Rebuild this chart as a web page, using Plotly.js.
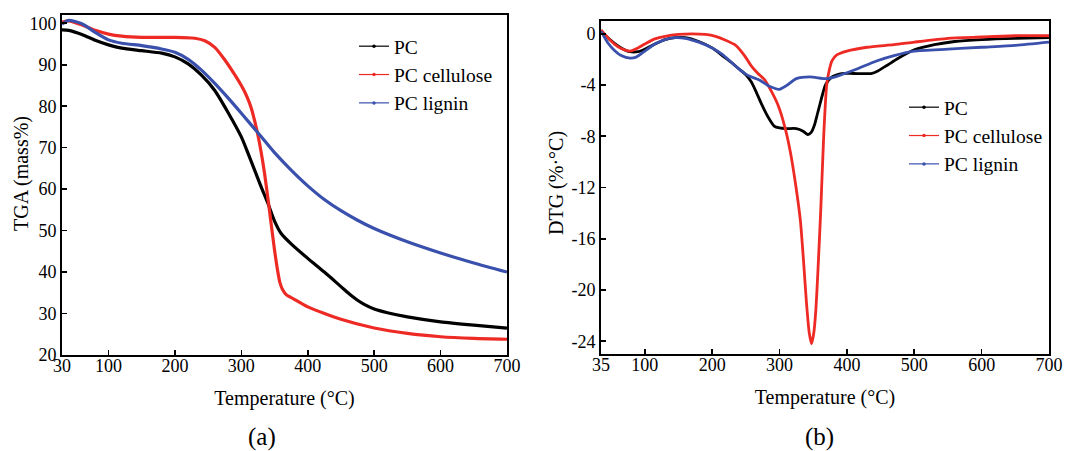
<!DOCTYPE html>
<html>
<head>
<meta charset="utf-8">
<script src="https://cdn.plot.ly/plotly-3.0.1.min.js"></script>
<style>
html,body{margin:0;padding:0;background:#fff;}
#chart{width:1072px;height:451px;}
</style>
</head>
<body>
<div id="chart"></div>
<script>
// ---------- Data ----------
const seriesNames = ["PC", "PC cellulose", "PC lignin"];
const seriesColors = ["#000000", "#ee2a24", "#3a50ad"];

// (a) TGA (mass%)
const tgaPC_T = [30,40,60,80,100,120,150,180,200,220,240,260,280,300,310,320,330,340,350,360,375,400,425,450,465,475,485,500,520,550,600,650,700];
const tgaPC_V = [98.4,98.3,97.3,95.9,94.8,94.0,93.4,92.8,91.9,90.2,87.5,83.8,78.5,72.6,68.7,64.6,60.5,56.6,52.3,49.3,46.8,43.3,40.0,36.5,34.4,33.2,32.2,31.1,30.2,29.2,28.0,27.2,26.5];

const tgaCel_T = [30,40,60,80,100,120,150,200,230,245,260,275,290,300,305,310,315,320,325,330,335,340,345,350,355,358,362,368,378,400,450,500,550,600,650,700];
const tgaCel_V = [100.3,100.6,99.6,98.3,97.4,96.9,96.6,96.6,96.4,95.8,94.2,91.2,87.6,85.0,83.5,81.7,79.5,76.5,73.0,68.8,63.8,57.8,51.5,45.3,40.0,37.5,35.8,34.5,33.6,31.6,28.6,26.5,25.2,24.4,24.0,23.8];

const tgaLig_T = [30,40,60,80,100,120,150,180,200,220,240,260,280,300,325,350,375,400,425,450,475,500,550,600,650,700];
const tgaLig_V = [99.8,100.7,99.9,97.8,96.0,95.2,94.6,93.8,93.0,91.3,88.7,85.5,82.0,78.3,73.6,68.8,64.6,60.8,57.5,54.8,52.5,50.5,47.3,44.6,42.2,40.0];

// (b) DTG (%·°C)
const dtgPC_T = [35,45,55,65,78,90,100,115,130,145,160,180,200,215,230,240,250,258,265,273,283,292,300,310,325,335,342,347,352,356,360,364,368,377,392,410,436,446,460,475,490,500,530,560,600,650,700];
const dtgPC_V = [0.2,-0.3,-0.75,-1.1,-1.4,-1.4,-1.2,-0.8,-0.45,-0.3,-0.3,-0.6,-1.1,-1.7,-2.3,-2.75,-3.2,-3.75,-4.5,-5.45,-6.5,-7.2,-7.35,-7.4,-7.4,-7.6,-7.86,-7.7,-7.1,-6.3,-5.5,-4.7,-4.0,-3.4,-3.1,-3.1,-3.1,-2.9,-2.45,-1.95,-1.5,-1.25,-0.85,-0.6,-0.45,-0.35,-0.3];

const dtgCel_T = [35,45,55,65,78,90,100,115,130,150,170,190,205,220,235,248,258,268,278,288,298,308,316,324,331,336,340,344,347.5,351,354,357,361,364,366,368,370,374,378,385,400,430,470,500,550,600,650,700];
const dtgCel_V = [0.3,-0.3,-0.8,-1.15,-1.35,-1.1,-0.8,-0.4,-0.2,-0.05,0.0,-0.05,-0.2,-0.5,-0.9,-1.7,-2.5,-3.1,-3.6,-4.5,-5.6,-7.3,-9.2,-11.8,-14.6,-18,-21,-23.3,-24.2,-23.3,-21.5,-18.5,-14,-10,-7.5,-5.5,-4.0,-2.8,-2.1,-1.65,-1.35,-1.05,-0.85,-0.65,-0.35,-0.25,-0.15,-0.15];

const dtgLig_T = [35,45,55,65,78,88,100,115,130,145,160,180,200,215,230,240,255,270,285,300,310,325,345,370,385,410,445,470,500,550,600,650,700];
const dtgLig_V = [0.2,-0.7,-1.3,-1.7,-1.9,-1.8,-1.35,-0.8,-0.45,-0.3,-0.35,-0.65,-1.1,-1.6,-2.3,-2.75,-3.3,-3.6,-4.1,-4.33,-4.05,-3.5,-3.37,-3.5,-3.32,-2.85,-2.1,-1.7,-1.35,-1.2,-1.05,-0.9,-0.65];

// Tick labels
const tgaXTicks = [30,100,200,300,400,500,600,700];
const tgaYTicks = [20,30,40,50,60,70,80,90,100];
const dtgXTicks = [35,100,200,300,400,500,600,700];
const dtgYTicks = [0,-4,-8,-12,-16,-20,-24];
const dtgYTickText = ["0","-4","-8","-12","-16","-20","-24"];

const panelLabels = ["(a)", "(b)"];
const xTitle = "Temperature (°C)";
const yTitleA = "TGA (mass%)";
const yTitleB = "DTG (%·°C)";

// ---------- Build traces ----------
const FONT = "Liberation Serif, Times New Roman, serif";
const tgaT = [tgaPC_T, tgaCel_T, tgaLig_T];
const tgaV = [tgaPC_V, tgaCel_V, tgaLig_V];
const dtgT = [dtgPC_T, dtgCel_T, dtgLig_T];
const dtgV = [dtgPC_V, dtgCel_V, dtgLig_V];

const traces = [];
for (let i = 0; i < 3; i++) {
  traces.push({x: tgaT[i], y: tgaV[i], xaxis: "x", yaxis: "y", mode: "lines",
    line: {color: seriesColors[i], width: 3.2, shape: "spline", smoothing: 0.6},
    showlegend: false, hoverinfo: "skip"});
}
for (let i = 0; i < 3; i++) {
  traces.push({x: dtgT[i], y: dtgV[i], xaxis: "x2", yaxis: "y2", mode: "lines",
    line: {color: seriesColors[i], width: 2.8, shape: "spline", smoothing: 0.6},
    showlegend: false, hoverinfo: "skip"});
}
// legend entries (thin line with small dot, as in the original)
for (let i = 0; i < 3; i++) {
  traces.push({x: [null], y: [null], xaxis: "x", yaxis: "y", mode: "lines+markers",
    name: seriesNames[i], legend: "legend",
    line: {color: seriesColors[i], width: 1.2}, marker: {color: seriesColors[i], size: 3.5}});
}
for (let i = 0; i < 3; i++) {
  traces.push({x: [null], y: [null], xaxis: "x2", yaxis: "y2", mode: "lines+markers",
    name: seriesNames[i], legend: "legend2",
    line: {color: seriesColors[i], width: 1.2}, marker: {color: seriesColors[i], size: 3.5}});
}

const W = 1072, H = 451;
const axisCommon = {
  showline: true, mirror: true, linecolor: "#000", linewidth: 2,
  ticks: "inside", ticklen: 5, tickwidth: 1.6, tickcolor: "#000",
  showgrid: false, zeroline: false, automargin: false,
  tickfont: {family: FONT, size: 18, color: "#000"},
  tickmode: "array"
};

const layout = {
  width: W, height: H,
  margin: {l: 0, r: 0, t: 0, b: 0},
  paper_bgcolor: "#fff", plot_bgcolor: "#fff",
  font: {family: FONT, color: "#000"},
  xaxis: Object.assign({}, axisCommon, {
    domain: [62/W, 507/W], range: [30, 700], tickvals: tgaXTicks,
    anchor: "y", ticklabelstandoff: -7,
    title: {text: xTitle, font: {family: FONT, size: 20, color: "#000"}, standoff: 16}
  }),
  yaxis: Object.assign({}, axisCommon, {
    domain: [1 - 355/H, 1 - 15/H], range: [20, 102], tickvals: tgaYTicks,
    anchor: "x"
  }),
  xaxis2: Object.assign({}, axisCommon, {
    domain: [601/W, 1049/W], range: [35, 700], tickvals: dtgXTicks,
    anchor: "y2", ticklabelstandoff: -7,
    title: {text: xTitle, font: {family: FONT, size: 20, color: "#000"}, standoff: 16}
  }),
  yaxis2: Object.assign({}, axisCommon, {
    domain: [1 - 354/H, 1 - 21/H], range: [-25, 1], tickvals: dtgYTicks, ticktext: dtgYTickText,
    anchor: "x2"
  }),
  legend: {x: 354/W, y: 1 - 27/H, xanchor: "left", yanchor: "top",
    bgcolor: "rgba(0,0,0,0)", borderwidth: 0,
    font: {family: FONT, size: 19.5, color: "#000"}, tracegroupgap: 0},
  legend2: {x: 904/W, y: 1 - 88/H, xanchor: "left", yanchor: "top",
    bgcolor: "rgba(0,0,0,0)", borderwidth: 0,
    font: {family: FONT, size: 19.5, color: "#000"}, tracegroupgap: 0},
  annotations: [
    {text: yTitleA, xref: "paper", yref: "paper", x: 22/W, y: 1 - 174/H, textangle: -90,
     xanchor: "center", yanchor: "middle", showarrow: false,
     font: {family: FONT, size: 20, color: "#000"}},
    {text: yTitleB, xref: "paper", yref: "paper", x: 556/W, y: 1 - 183/H, textangle: -90,
     xanchor: "center", yanchor: "middle", showarrow: false,
     font: {family: FONT, size: 20, color: "#000"}},
    {text: panelLabels[0], xref: "paper", yref: "paper", x: 262/W, y: 1 - 437/H,
     xanchor: "center", yanchor: "middle", showarrow: false,
     font: {family: FONT, size: 25, color: "#000"}},
    {text: panelLabels[1], xref: "paper", yref: "paper", x: 819/W, y: 1 - 437/H,
     xanchor: "center", yanchor: "middle", showarrow: false,
     font: {family: FONT, size: 25, color: "#000"}}
  ]
};

Plotly.newPlot("chart", traces, layout, {displayModeBar: false, staticPlot: true});
</script>
</body>
</html>
